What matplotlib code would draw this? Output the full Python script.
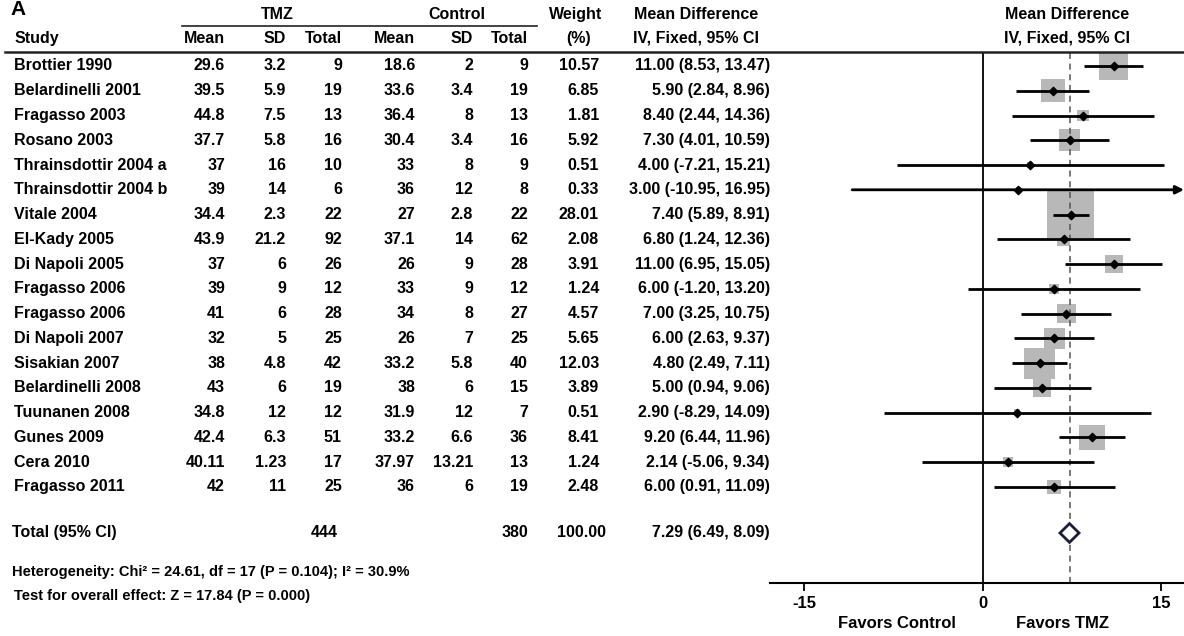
import matplotlib.pyplot as plt
from matplotlib.lines import Line2D
from matplotlib import transforms

plt.rcParams['font.family'] = ['Liberation Sans', 'DejaVu Sans']
plt.rcParams['font.weight'] = 'bold'
plt.rcParams['axes.unicode_minus'] = False

# study rows
studies = ["Brottier 1990", "Belardinelli 2001", "Fragasso 2003", "Rosano 2003",
           "Thrainsdottir 2004 a", "Thrainsdottir 2004 b", "Vitale 2004", "El-Kady 2005",
           "Di Napoli 2005", "Fragasso 2006", "Fragasso 2006", "Di Napoli 2007",
           "Sisakian 2007", "Belardinelli 2008", "Tuunanen 2008", "Gunes 2009",
           "Cera 2010", "Fragasso 2011"]
tmz_mean = ["29.6", "39.5", "44.8", "37.7", "37", "39", "34.4", "43.9", "37", "39",
            "41", "32", "38", "43", "34.8", "42.4", "40.11", "42"]
tmz_sd = ["3.2", "5.9", "7.5", "5.8", "16", "14", "2.3", "21.2", "6", "9",
          "6", "5", "4.8", "6", "12", "6.3", "1.23", "11"]
tmz_n = [9, 19, 13, 16, 10, 6, 22, 92, 26, 12, 28, 25, 42, 19, 12, 51, 17, 25]
ctl_mean = ["18.6", "33.6", "36.4", "30.4", "33", "36", "27", "37.1", "26", "33",
            "34", "26", "33.2", "38", "31.9", "33.2", "37.97", "36"]
ctl_sd = ["2", "3.4", "8", "3.4", "8", "12", "2.8", "14", "9", "9",
          "8", "7", "5.8", "6", "12", "6.6", "13.21", "6"]
ctl_n = [9, 19, 13, 16, 9, 8, 22, 62, 28, 12, 27, 25, 40, 15, 7, 36, 13, 19]
weight = [10.57, 6.85, 1.81, 5.92, 0.51, 0.33, 28.01, 2.08, 3.91, 1.24,
          4.57, 5.65, 12.03, 3.89, 0.51, 8.41, 1.24, 2.48]
md = [11.00, 5.90, 8.40, 7.30, 4.00, 3.00, 7.40, 6.80, 11.00, 6.00,
      7.00, 6.00, 4.80, 5.00, 2.90, 9.20, 2.14, 6.00]
ci_lo = [8.53, 2.84, 2.44, 4.01, -7.21, -10.95, 5.89, 1.24, 6.95, -1.20,
         3.25, 2.63, 2.49, 0.94, -8.29, 6.44, -5.06, 0.91]
ci_hi = [13.47, 8.96, 14.36, 10.59, 15.21, 16.95, 8.91, 12.36, 15.05, 13.20,
         10.75, 9.37, 7.11, 9.06, 14.09, 11.96, 9.34, 11.09]

# pooled result
total_tmz = 444
total_ctl = 380
total_weight = 100.00
total_md = 7.29
total_lo = 6.49
total_hi = 8.09
heterogeneity = "Heterogeneity: Chi\u00b2 = 24.61, df = 17 (P = 0.104); I\u00b2 = 30.9%"
overall = "Test for overall effect: Z = 17.84 (P = 0.000)"

W, H = 1184, 636
fig = plt.figure(figsize=(W / 100, H / 100), dpi=100)

# forest panel on the right
ax = fig.add_axes([770 / W, 1 - 583 / H, 414 / W, 531 / H])
ax.set_xlim(-17.85, 16.9)
ax.set_ylim(20.88, -0.565)
total_row = 18.86

fs = 11.5
rows = list(range(len(studies)))

# table text: x in figure pixels, y in row units shared with the forest axes
tr = transforms.blended_transform_factory(fig.transFigure, ax.transData)


def col(x, y, s, ha="right", size=fs, **kw):
    fig.text(x / W, y, s, transform=tr, ha=ha, va="center", fontsize=size, **kw)


for i in rows:
    col(14, i, studies[i], ha="left")
    col(225, i, tmz_mean[i])
    col(286, i, tmz_sd[i])
    col(342, i, str(tmz_n[i]))
    col(415, i, ctl_mean[i])
    col(473, i, ctl_sd[i])
    col(528, i, str(ctl_n[i]))
    col(599, i, "%.2f" % weight[i])
    col(770, i, "%.2f (%.2f, %.2f)" % (md[i], ci_lo[i], ci_hi[i]))

# headers
h1, h2 = -2.06, -1.13
col(277, h1, "TMZ", ha="center")
col(457, h1, "Control", ha="center")
col(576, h1, "Weight", ha="center")
col(696, h1, "Mean Difference", ha="center")
col(1067, h1, "Mean Difference", ha="center")
col(15, h2, "Study", ha="left")
for x, s in [(225, "Mean"), (286, "SD"), (342, "Total"),
             (415, "Mean"), (473, "SD"), (528, "Total")]:
    col(x, h2, s)
col(579, h2, "(%)", ha="center")
col(696, h2, "IV, Fixed, 95% CI", ha="center")
col(1067, h2, "IV, Fixed, 95% CI", ha="center")

# totals and footnotes
col(12, total_row, "Total (95% CI)", ha="left")
col(338, total_row, str(total_tmz))
col(528, total_row, str(total_ctl))
col(606, total_row, "%.2f" % total_weight)
col(770, total_row, "%.2f (%.2f, %.2f)" % (total_md, total_lo, total_hi))
col(12, 20.44, heterogeneity, ha="left", size=10.5)
col(14, 21.41, overall, ha="left", size=10.5)

fig.text(10 / W, 1 - 15 / H, "A", fontsize=15, ha="left", va="baseline")

# rules under the group header and under the column header
fig.add_artist(Line2D([182 / W, 537 / W], [1 - 26 / H, 1 - 26 / H],
                      color="#222222", lw=1.2))
fig.add_artist(Line2D([5 / W, 1], [1 - 52 / H, 1 - 52 / H],
                      color="#222222", lw=1.8))

# forest marks
ax.axvline(0, color="black", lw=1.3)
ax.axvline(total_md, color="#555555", lw=1.1, ls=(0, (4, 3)))

xmax = ax.get_xlim()[1]
for i in rows:
    if ci_hi[i] > xmax:
        ax.annotate("", xy=(xmax, i), xytext=(ci_lo[i], i),
                    arrowprops=dict(arrowstyle="-|>", color="black", lw=2,
                                    mutation_scale=12, shrinkA=0, shrinkB=0),
                    annotation_clip=False)
    else:
        ax.plot([ci_lo[i], ci_hi[i]], [i, i], color="black", lw=2,
                solid_capstyle="butt")

ax.scatter(md, rows, s=[41 * w for w in weight], marker="s", color="#b8b8b8",
           edgecolors="none", zorder=1)
ax.scatter(md, rows, s=18, marker="D", color="black", zorder=3)

dh = 0.38
ax.fill([total_lo, total_md, total_hi, total_md],
        [total_row, total_row - dh, total_row, total_row + dh],
        facecolor="white", edgecolor="#1c1c3c", lw=2, zorder=3)

for s in ["left", "right", "top"]:
    ax.spines[s].set_visible(False)
ax.spines["bottom"].set_linewidth(1.5)
ax.set_yticks([])
ax.set_xticks([-15, 0, 15])
ax.tick_params(axis="x", length=6, width=1.3, labelsize=12, pad=3)
for lbl in ax.get_xticklabels():
    lbl.set_fontweight("bold")

btr = transforms.blended_transform_factory(ax.transData, ax.transAxes)
ax.text(-7.16, -0.077, "Favors Control", transform=btr, ha="center", va="center",
        fontsize=12)
ax.text(6.74, -0.077, "Favors TMZ", transform=btr, ha="center", va="center",
        fontsize=12)

fig.savefig("out.png", dpi=100)
